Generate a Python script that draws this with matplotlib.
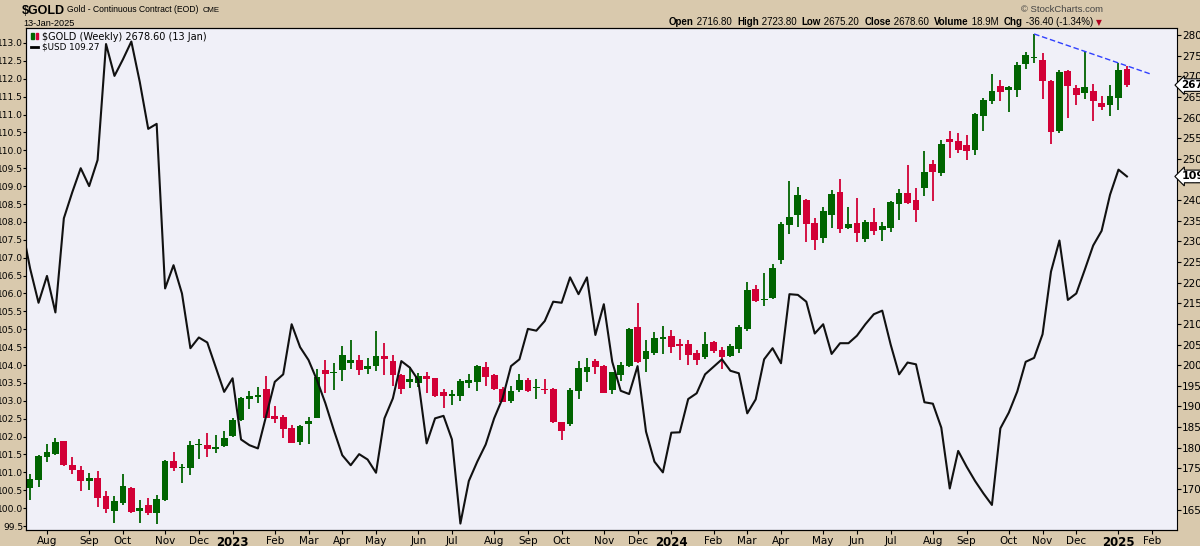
import datetime as dt
import numpy as np
import matplotlib.pyplot as plt
from matplotlib.patches import Rectangle

# weekly $GOLD candles, first week = 18-Jul-2022
week0 = dt.date(2022, 7, 18)
opens = [1703.4, 1722.0, 1778.5, 1785.8, 1816.5, 1758.3, 1746.2, 1720.4, 1726.8, 1683.2,
         1647.7, 1666.3, 1702.6, 1647.7, 1660.6, 1642.9, 1673.5, 1768.0, 1751.0, 1751.9,
         1807.0, 1806.8, 1798.0, 1805.2, 1829.4, 1867.3, 1918.2, 1923.0, 1942.5, 1877.0,
         1874.6, 1848.0, 1814.0, 1858.5, 1873.0, 1988.5, 1980.0, 1987.7, 2004.6, 2012.7,
         1990.1, 1997.4, 2021.6, 2010.3, 1976.4, 1958.6, 1957.8, 1973.9, 1969.0, 1935.2,
         1924.7, 1926.3, 1956.2, 1960.2, 1994.9, 1976.4, 1943.3, 1913.4, 1940.0, 1964.2,
         1944.0, 1943.5, 1943.3, 1862.5, 1857.7, 1938.4, 1984.5, 2010.3, 1998.2, 1940.0,
         1976.4, 1998.2, 2092.6, 2015.1, 2030.5, 2062.8, 2070.8, 2051.5, 2051.5, 2030.5,
         2019.2, 2056.3, 2036.9, 2023.2, 2040.2, 2087.0, 2184.7, 2157.0, 2162.9, 2255.0,
         2339.8, 2364.0, 2400.3, 2344.6, 2308.3, 2364.0, 2419.7, 2332.5, 2344.6, 2305.9,
         2347.0, 2327.6, 2332.5, 2390.6, 2417.3, 2400.3, 2429.4, 2487.5, 2465.7, 2548.1,
         2543.3, 2533.6, 2521.5, 2603.8, 2640.2, 2676.5, 2666.8, 2666.8, 2729.8, 2744.3,
         2739.5, 2689.4, 2567.5, 2712.8, 2671.6, 2659.5, 2664.4, 2635.3, 2630.5, 2647.4,
         2716.8]
highs = [1736.5, 1782.5, 1808.4, 1823.7, 1817.5, 1778.5, 1755.9, 1739.8, 1744.6, 1696.2,
         1683.2, 1736.5, 1705.8, 1673.5, 1678.4, 1685.7, 1770.5, 1789.8, 1760.0, 1816.5,
         1821.3, 1835.9, 1831.0, 1840.7, 1872.2, 1922.3, 1936.8, 1947.3, 1973.9, 1901.3,
         1879.5, 1856.0, 1854.4, 1874.6, 1991.7, 2012.7, 2004.6, 2046.6, 2061.1, 2024.8,
         2017.5, 2083.0, 2053.9, 2024.8, 1978.0, 1994.9, 1980.4, 1984.5, 1970.0, 1941.6,
         1940.0, 1967.5, 1979.6, 1999.8, 2007.9, 1978.0, 1948.0, 1949.7, 1978.8, 1968.0,
         1966.7, 1966.7, 1945.7, 1863.0, 1944.1, 2010.3, 2016.7, 2014.3, 2000.0, 1983.6,
         2007.9, 2091.0, 2151.6, 2061.1, 2080.5, 2095.9, 2085.4, 2063.6, 2061.1, 2037.0,
         2081.4, 2059.5, 2045.0, 2051.5, 2096.7, 2201.7, 2194.4, 2222.7, 2245.3, 2347.0,
         2446.4, 2431.8, 2402.8, 2357.5, 2383.4, 2424.5, 2451.2, 2383.4, 2405.2, 2351.9,
         2380.9, 2347.0, 2398.7, 2426.9, 2485.1, 2429.4, 2519.0, 2497.2, 2545.7, 2567.5,
         2562.6, 2557.8, 2611.1, 2647.4, 2705.6, 2691.0, 2676.5, 2734.6, 2758.9, 2802.5,
         2756.4, 2692.0, 2715.3, 2715.3, 2678.9, 2761.3, 2681.3, 2652.3, 2678.9, 2732.2,
         2723.8]
lows = [1673.5, 1705.8, 1766.4, 1783.4, 1756.7, 1736.5, 1696.2, 1697.8, 1655.8, 1642.9,
        1618.6, 1662.2, 1642.9, 1618.6, 1637.2, 1615.4, 1671.0, 1743.8, 1715.5, 1734.1,
        1773.7, 1778.5, 1788.2, 1801.1, 1826.2, 1865.7, 1894.8, 1909.3, 1871.4, 1860.9,
        1823.7, 1810.8, 1807.6, 1810.0, 1871.4, 1933.6, 1940.8, 1962.6, 1990.9, 1976.4,
        1978.0, 1985.0, 1976.4, 1949.7, 1930.3, 1945.7, 1946.5, 1933.6, 1923.9, 1897.2,
        1904.5, 1914.2, 1945.7, 1938.4, 1949.7, 1940.0, 1911.0, 1909.3, 1936.0, 1936.0,
        1919.0, 1929.5, 1859.3, 1818.9, 1853.6, 1917.4, 1959.4, 1978.8, 1932.0, 1930.3,
        1961.8, 1995.7, 2006.2, 1983.6, 2024.0, 2026.5, 2028.8, 2012.7, 2000.6, 2000.6,
        2015.9, 2028.9, 1991.7, 2020.8, 2030.5, 2083.8, 2153.2, 2144.3, 2161.0, 2245.3,
        2318.0, 2334.9, 2298.6, 2279.2, 2296.2, 2332.5, 2320.4, 2330.1, 2298.6, 2298.6,
        2315.5, 2301.0, 2322.8, 2351.9, 2390.6, 2347.0, 2410.0, 2397.9, 2458.5, 2502.1,
        2514.2, 2497.2, 2509.3, 2567.5, 2632.9, 2640.2, 2613.5, 2649.8, 2717.7, 2732.2,
        2645.0, 2536.0, 2562.6, 2599.0, 2630.5, 2645.0, 2591.7, 2618.4, 2603.8, 2618.4,
        2675.2]
closes = [1723.5, 1780.0, 1789.8, 1814.0, 1758.3, 1746.2, 1720.4, 1726.8, 1679.2, 1650.9,
          1671.1, 1707.5, 1645.3, 1654.2, 1641.2, 1676.0, 1768.0, 1751.9, 1754.0, 1807.6,
          1809.0, 1797.9, 1802.0, 1824.5, 1867.3, 1920.6, 1926.3, 1927.9, 1873.0, 1870.6,
          1846.4, 1812.5, 1852.8, 1864.1, 1971.5, 1979.6, 1984.0, 2024.8, 2012.7, 1987.7,
          1998.2, 2022.4, 2015.9, 1976.4, 1941.6, 1966.8, 1973.9, 1967.5, 1926.3, 1926.3,
          1930.3, 1961.8, 1964.2, 1998.2, 1972.3, 1942.5, 1911.8, 1937.6, 1964.2, 1938.4,
          1947.0, 1940.5, 1862.5, 1840.7, 1940.0, 1992.5, 1995.7, 1996.5, 1933.6, 1982.8,
          2000.6, 2087.8, 2008.7, 2034.5, 2066.0, 2069.2, 2045.0, 2047.4, 2025.6, 2012.7,
          2051.5, 2035.3, 2020.8, 2046.6, 2093.5, 2182.3, 2154.9, 2159.5, 2235.6, 2342.2,
          2358.3, 2412.4, 2342.2, 2303.4, 2373.7, 2414.9, 2330.1, 2342.2, 2320.4, 2347.0,
          2326.0, 2337.3, 2396.3, 2417.3, 2393.1, 2376.1, 2468.2, 2468.2, 2536.0, 2540.8,
          2521.5, 2519.0, 2608.7, 2642.6, 2664.4, 2662.0, 2674.1, 2727.4, 2751.6, 2746.7,
          2688.6, 2565.1, 2711.2, 2676.5, 2654.7, 2674.1, 2640.2, 2625.6, 2652.3, 2715.0,
          2678.6]
# weekly $USD closes, first value = week of 11-Jul-2022
usd = [107.90,
       106.70, 105.74, 106.49, 105.47, 108.10, 108.83, 109.50, 109.00, 109.73, 112.97,
       112.08, 112.54, 113.04, 111.91, 110.60, 110.74, 106.14, 106.79, 106.00, 104.47,
       104.77, 104.63, 103.94, 103.25, 103.63, 101.92, 101.76, 101.67, 102.60, 103.53,
       103.74, 105.14, 104.50, 104.14, 103.58, 102.93, 102.18, 101.48, 101.20, 101.51,
       101.36, 100.99, 102.51, 103.07, 104.11, 103.93, 103.58, 101.81, 102.51, 102.58,
       101.92, 99.57, 100.76, 101.30, 101.78, 102.51, 103.07, 103.97, 104.16, 105.01,
       104.96, 105.23, 105.77, 105.74, 106.45, 105.98, 106.45, 104.84, 105.70, 104.09,
       103.28, 103.19, 103.97, 102.14, 101.30, 101.00, 102.11, 102.12, 103.05, 103.21,
       103.74, 103.95, 104.16, 103.84, 103.77, 102.65, 103.04, 104.16, 104.47, 104.05,
       105.98, 105.96, 105.77, 104.88, 105.14, 104.31, 104.61, 104.61, 104.82, 105.14,
       105.42, 105.52, 104.57, 103.74, 104.07, 104.02, 102.96, 102.92, 102.25, 100.55,
       101.60, 101.16, 100.76, 100.41, 100.09, 102.23, 102.67, 103.26, 104.09, 104.20,
       104.86, 106.61, 107.48, 105.82, 106.00, 106.66, 107.34, 107.75, 108.76, 109.46,
       109.27]
volume_txt = '18.9M'

GREEN = '#006400'
RED = '#D20036'
BG = '#D9C9AD'

o = np.array(opens); h = np.array(highs); lo = np.array(lows); c = np.array(closes)
n = len(c)
x = np.arange(n)
xu = np.arange(-1, n)

W, H = 1200, 546
fig = plt.figure(figsize=(W / 100, H / 100), dpi=100, facecolor=BG)
L, R, T, B = 26.3, 1176.7, 28.3, 530
ax = fig.add_axes([L / W, 1 - B / H, (R - L) / W, (B - T) / H])
ax.set_facecolor('#F0F0F8')
axu = ax.twinx()

# candles
col = np.where(c >= o, GREEN, RED)
ax.vlines(x, lo, h, colors=col, lw=1.3)
ax.bar(x, np.maximum(np.abs(c - o), 2.5), bottom=np.minimum(o, c), width=0.8,
       color=col, linewidth=0)

# falling trendline off the top
i0 = int(np.argmax(h)); i1 = n - 2
slope = (h[i1] - h[i0]) / (i1 - i0)
tx = np.array([i0, 132.8])
ax.plot(tx, h[i0] + slope * (tx - i0), color='#3040FF', lw=1, ls=(0, (4, 2)))

ax.set_xlim(-0.45, 135.9)
ax.set_ylim(1600.8, 2816.2)
ax.yaxis.tick_right()
ax.set_yticks(np.arange(1650, 2801, 50))
ax.set_yticklabels([f'{v:d}' for v in range(1650, 2801, 50)])
ax.tick_params(axis='y', direction='out', length=3, pad=1, labelsize=7.5)

# month ticks
tpos, tlab = [], []
for i in range(1, 136):
    d = week0 + dt.timedelta(weeks=i)
    p = week0 + dt.timedelta(weeks=i - 1)
    if d.month != p.month:
        tpos.append(i)
        tlab.append(str(d.year) if d.month == 1 else d.strftime('%b'))
ax.set_xticks(tpos)
ax.set_xticklabels(tlab)
ax.tick_params(axis='x', direction='out', length=3, pad=1.5, labelsize=7.5)
for t in ax.get_xticklabels():
    if t.get_text().isdigit():
        t.set_fontweight('bold')
        t.set_fontsize(8.5)

# dollar index on the left scale
axu.yaxis.tick_left()
axu.plot(xu, usd, color='#111111', lw=1.5)
axu.set_ylim(99.39, 113.41)
axu.set_yticks(np.arange(99.5, 113.01, 0.5))
axu.set_yticklabels([f'{v:.1f}' for v in np.arange(99.5, 113.01, 0.5)])
axu.tick_params(axis='y', direction='out', length=2, pad=0.3, labelsize=6.6)
axu.spines['right'].set_visible(False)
ax.spines['right'].set_linestyle((0, (1, 1)))

# last value markers
box = dict(boxstyle='larrow,pad=0.12', fc='white', ec='black', lw=0.8)
ax.annotate(f'{c[-1]:.2f}', xy=(1, c[-1]), xycoords=('axes fraction', 'data'),
            xytext=(3.5, 0), textcoords='offset points', va='center', ha='left',
            fontsize=7.5, fontweight='bold', bbox=box, annotation_clip=False)
axu.annotate(f'{usd[-1]:.2f}', xy=(1, usd[-1]), xycoords=('axes fraction', 'data'),
             xytext=(3.5, 0), textcoords='offset points', va='center', ha='left',
             fontsize=8, fontweight='bold', bbox=box, annotation_clip=False)

# in-chart legend
axu.text(0.0137, 0.993, f'$GOLD (Weekly) {c[-1]:.2f} (13 Jan)', transform=axu.transAxes,
         fontsize=7, va='top', ha='left')
axu.text(0.0137, 0.972, f'$USD {usd[-1]:.2f}', transform=axu.transAxes,
         fontsize=6.3, va='top', ha='left')
for k, cc in enumerate([GREEN, RED]):
    axu.add_patch(Rectangle((0.0045 + k * 0.0035, 0.978), 0.0022, 0.012,
                            transform=axu.transAxes, color=cc, clip_on=False))
axu.plot([0.0045, 0.010], [0.963, 0.963], transform=axu.transAxes, color='black', lw=2)

# header
fam = ['Liberation Sans Narrow', 'Liberation Sans', 'DejaVu Sans']
fig.text(22 / W, 1 - 11 / H, '$GOLD', family=fam, weight='bold', size=9, va='center')
fig.text(67 / W, 1 - 10 / H, 'Gold - Continuous Contract (EOD)', family=fam, size=6.2,
         va='center')
fig.text(203 / W, 1 - 10 / H, 'CME', family=fam, size=5.6, va='center')
fig.text(23 / W, 1 - 23 / H, '13-Jan-2025', family=fam, size=6.6, va='center')
fig.text(1103 / W, 1 - 9 / H, '\u00a9 StockCharts.com', family=fam, size=6.8, va='center',
         ha='right', color='#444444')

chg = c[-1] - c[-2]
pieces = [('Open', True), (f' {o[-1]:.2f}  ', False), ('High', True), (f' {h[-1]:.2f}  ', False),
          ('Low', True), (f' {lo[-1]:.2f}  ', False), ('Close', True), (f' {c[-1]:.2f}  ', False),
          ('Volume', True), (f' {volume_txt}  ', False), ('Chg', True),
          (f' {chg:.2f} ({chg / c[-2] * 100:.2f}%) ', False)]
last = fig.text(1102 / W, 1 - 27 / H, '\u25bc', color='#B00020', size=5.5, ha='right',
                va='bottom')
for txt, bold in reversed(pieces):
    last = ax.annotate(txt, xy=(0, 0), xycoords=last, ha='right', va='bottom',
                       family=fam, size=7, weight='bold' if bold else 'normal',
                       annotation_clip=False)

fig.savefig('out.png', dpi=100, facecolor=BG)
